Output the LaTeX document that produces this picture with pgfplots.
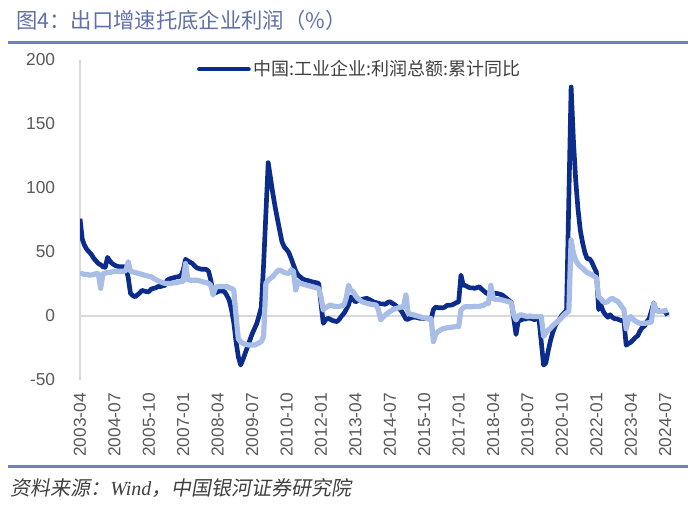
\documentclass[border=0pt]{standalone}
\usepackage{fontspec}
\setmainfont{Liberation Sans}
\newfontfamily\cjk{Noto Sans CJK SC}
\newfontfamily\cjksl[FakeSlant=0.18]{Noto Sans CJK SC}
\newfontfamily\timesf{Liberation Serif}
\usepackage{pgfplots}
\usepackage{pgfplotstable}
\pgfplotsset{compat=1.18}

\definecolor{navy}{RGB}{12,44,140}
\definecolor{lightb}{RGB}{168,190,230}
\definecolor{rulec}{RGB}{112,128,186}
\definecolor{ttl}{RGB}{96,112,168}
\definecolor{gridg}{RGB}{217,217,217}
\definecolor{tick}{RGB}{89,89,89}
\definecolor{legtxt}{RGB}{64,64,64}

% m = months since 2003-04
\pgfplotstableread{
m v
0 76
1 60
2 55
3 52
4 50
5 48
6 45
7 43
8 41
9 40
10 38.5
11 38
12 45.8
13 43
14 41
15 39.8
16 39
17 38.5
18 38.5
19 38.5
20 38
21 30
22 17.7
23 16
24 15
25 16.5
26 18
27 20
28 19.5
29 19
30 19
31 21
32 21.6
33 22
34 23
35 23
36 23.5
37 24
38 28
39 29
40 29.5
41 30
42 30.5
43 30.7
44 31.5
45 36
46 44.3
47 43
48 42
49 41
50 39
51 37.5
52 37
53 36.5
54 36.5
55 36.4
56 35
57 28
58 17.7
59 18
60 19
61 19.5
62 19.5
63 19
64 16
65 12.5
66 5
67 -5
68 -20
69 -32
70 -38.3
71 -34
72 -29
73 -24
74 -19
75 -14
76 -10
77 -6
78 0
79 7
80 40
81 80
82 119.8
83 108
84 96
85 85.4
86 76
87 67
88 58
89 54
90 52
91 49.5
92 45
93 40
94 35
95 32
96 30.5
97 29
98 28.2
99 27.8
100 27.3
101 26.8
102 26.3
103 26
104 25.5
105 10
106 -5.7
107 -3
108 -1.8
109 -2.5
110 -3.5
111 -4
112 -4.4
113 -2.5
114 0
115 2
116 5
117 8.6
118 15
119 13
120 11
121 12
122 12.5
123 13
124 13.5
125 13.8
126 13
127 12
128 11
129 10.5
130 9.9
131 9.5
132 9.5
133 9.1
134 10.5
135 11.2
136 10
137 9
138 7.5
139 6
140 4
141 1
142 -2.5
143 -2.5
144 -1.5
145 -1
146 -1
147 -1.2
148 -1.8
149 -1.8
150 -2
151 -2
152 -2.3
153 -2.3
154 5
155 7
156 6.5
157 6.5
158 6.3
159 7
160 8.4
161 8.4
162 8.6
163 9.4
164 10.5
165 11
166 32
167 24
168 23.8
169 22.7
170 22
171 22
172 21.6
173 22.2
174 22.8
175 21
176 19.5
177 18
178 17
179 16
180 17.5
181 17.7
182 17.5
183 17
184 16.4
185 15
186 13.6
187 12
188 10.5
190 -14.5
191 -3.3
192 -3.4
193 -2.3
194 -2.4
195 -1.7
196 -1.7
197 -2.1
198 -2.9
199 -2.1
200 -2.5
202 -38.3
203 -36.7
204 -27.4
205 -19.3
206 -12.8
207 -8.1
208 -4.4
209 -2.4
210 0.7
211 2.4
212 4.1
214 178.9
215 137.3
216 106
217 83.4
218 66.9
219 57.3
220 49.5
221 44.7
222 44.7
223 42.2
224 38
225 34.3
226 5.0
227 8.5
228 3.5
229 1.0
230 -1.0
231 1.0
232 -1.1
233 -2.1
234 -2.3
235 -3.0
236 -3.6
237 -4.0
238 -22.9
239 -21.4
240 -20.6
241 -18.8
242 -16.8
243 -15.5
244 -11.7
245 -9.0
246 -7.8
247 -4.4
248 -2.3
250 10.2
251 4.3
252 4.3
253 3.4
254 3.5
255 3.6
256 0.5
}\profit

\pgfplotstableread{
m v
0 33.5
1 33
2 32.5
3 32.5
4 32
5 32
6 32.5
7 33
8 33
9 21.6
10 33
11 33.5
12 34
13 34
14 34.5
15 35
16 35
17 35
18 35
19 35
20 35.5
21 42.4
22 35
23 34.5
24 34
25 33.5
26 33
27 32.5
28 32
29 31.5
30 31
31 30.7
32 29.5
33 28.5
34 27.5
35 26.8
36 26
37 25.5
38 25.5
39 25.5
40 25.5
41 26
42 26
43 26.5
44 26.8
45 27
46 41
47 28.5
48 28
49 28
50 28
51 28
52 27.5
53 27
54 26.5
55 26
56 25.5
57 24
58 16.4
59 22
60 23
61 23
62 23
63 23
64 23
65 22
66 21.5
67 20.3
68 0
69 -18
70 -20
71 -21.4
72 -22
73 -22.5
74 -22.7
75 -22.7
76 -22.7
77 -22
78 -21
79 -20
80 -16
81 25.5
82 28
83 29.5
84 30.7
85 33
86 35
87 36
88 35
89 34
90 33.5
91 33.3
92 36
93 35
94 20.3
95 26.8
96 25.5
97 25
98 24.5
99 24
100 23.5
101 23
102 22.5
103 22
104 21.6
105 15
106 4.7
107 6.5
108 7.5
109 8.6
110 8
111 7.5
112 7.3
113 7.5
114 8
115 8.6
116 14
117 24
118 20
119 19
120 16
121 13.8
122 12.5
123 11
124 10.5
125 9.9
126 9.5
127 9
128 8.8
129 8.6
130 5
131 -3
132 -1
133 0.8
134 2
135 3.5
136 4.5
137 5.5
138 6
139 6.5
140 7
141 7
142 16.4
143 2
144 1.5
145 1
146 0.5
147 0
148 -0.5
149 -1
150 -1.5
151 -1.8
152 -2
153 -2
154 -20
155 -14
156 -12.3
157 -11
158 -10
159 -9.6
160 -9.2
161 -9
162 -8.7
163 -8.5
164 -8.3
165 -8.3
166 4.7
167 6.5
168 7.3
169 7.3
170 7.3
171 7.3
172 7.5
173 7.5
174 7.5
175 8
176 8.5
177 9.9
178 9.9
179 24
180 13.8
181 13
182 13
183 12.8
184 12.5
185 12
186 11.5
187 11
188 10
189 0.8
190 -3.1
191 0
192 1
193 0.5
194 0
195 -0.5
196 0
197 -0.3
198 -0.5
199 -0.5
200 -0.5
201 -0.5
202 -16
203 -13
204 -11
205 -9.6
206 -7.5
207 -6
208 -4.5
209 -3
210 -1
211 1
212 2.5
213 3.6
214 59.4
215 49
216 43.8
217 40.5
218 38.6
219 37.3
220 35.5
221 34
222 33
223 32.3
224 31
225 29.9
226 15
227 13.3
228 11.2
229 10.5
230 11.4
231 13
232 13.8
233 12.5
234 11.8
235 10
236 7.3
237 5
238 -10
239 -2
240 -0.5
241 -2.5
242 -4
243 -5
244 -5.7
245 -5.7
246 -5.7
247 -5.5
248 -5.2
249 -4.6
250 9.9
251 5
252 3.4
253 3.5
254 3.8
255 4.2
256 4.7
}\export

\begin{document}
\begin{tikzpicture}
\useasboundingbox (0,0) rectangle (525pt,379.5pt);
\node[anchor=west, inner sep=0pt, text=ttl, font=\cjk\fontsize{16}{18}\selectfont]
  at (12pt,364.5pt) {图4：出口增速托底企业利润（\%）};
\draw[rulec, line width=2.2pt] (6pt,347.5pt) -- (516pt,347.5pt);
\draw[rulec, line width=2.2pt] (6pt,29.5pt) -- (516pt,29.5pt);
\node[anchor=west, inner sep=0pt, text=legtxt, font=\cjksl\fontsize{15}{17}\selectfont]
  at (7.5pt,13.5pt) {资料来源：{\timesf\itshape Wind}，中国银河证券研究院};

\begin{axis}[
  at={(60pt,94.5pt)}, anchor=south west,
  scale only axis, width=442.35pt, height=240pt,
  xmin=0, xmax=257, ymin=-50, ymax=200,
  axis line style={draw=none},
  tick style={draw=none},
  ytick={-50,0,...,200},
  xtick={0,15,...,255},
  xticklabels={2003-04,2004-07,2005-10,2007-01,2008-04,2009-07,2010-10,2012-01,2013-04,2014-07,2015-10,2017-01,2018-04,2019-07,2020-10,2022-01,2023-04,2024-07},
  /pgf/number format/assume math mode=true,
  ticklabel style={font=\fontsize{13}{15}\selectfont, text=tick},
  xticklabel style={rotate=90, anchor=east, inner sep=0pt},
  yticklabel style={inner sep=0pt},
  xticklabel shift=9.75pt,
  yticklabel shift=18.5pt,
  extra y ticks={0}, extra y tick labels={},
  extra y tick style={grid=major, major grid style={gridg, line width=1.1pt}},
  extra x ticks={0}, extra x tick labels={},
  extra x tick style={grid=major, major grid style={gridg, line width=1.1pt}},
  legend style={at={(0.198,0.971)}, anchor=west, draw=none, fill=none,
    font=\cjk\fontsize{13.5}{15}\selectfont, text=legtxt, inner sep=0pt},
  legend image code/.code={\draw[#1, line width=3.3pt, line cap=round] (0pt,0pt) -- (37pt,0pt);},
]
\addplot[navy, line width=3.5pt, line join=round] table[x=m, y=v] {\profit};
\addlegendentry{中国:工业企业:利润总额:累计同比}
\addplot[lightb, line width=3.9pt, line join=round, forget plot] table[x=m, y=v] {\export};
\end{axis}
\end{tikzpicture}
\end{document}
